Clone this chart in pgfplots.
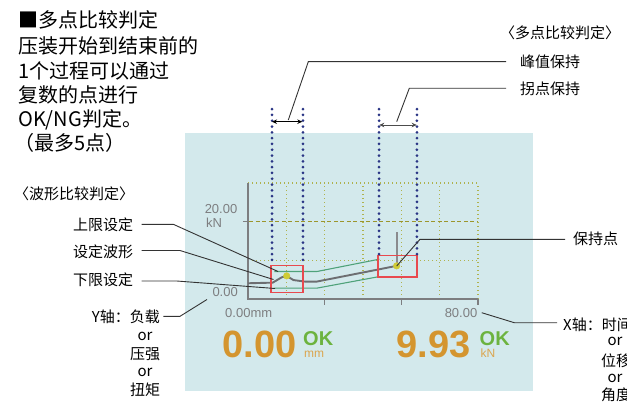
\documentclass[border=0pt]{standalone}
\usepackage{pgfplots}
\pgfplotsset{compat=1.18}
\usepackage{fontspec}
\setmainfont{Liberation Sans}
\newfontfamily\cjk{Noto Sans CJK SC}
\usetikzlibrary{arrows.meta}
\definecolor{panel}{HTML}{D3E9EC}
\definecolor{axgray}{HTML}{7D7E80}
\definecolor{navy}{HTML}{2A3585}
\definecolor{olive}{HTML}{AFB24E}
\definecolor{olivedk}{HTML}{9C962C}
\definecolor{limgreen}{HTML}{4FA27A}
\definecolor{boxred}{HTML}{E84A4F}
\definecolor{dotyellow}{HTML}{CFCB35}
\definecolor{numorange}{HTML}{D4952F}
\definecolor{okgreen}{HTML}{6CB33F}
\definecolor{wavegray}{HTML}{6D6E71}
\definecolor{leader}{HTML}{333333}
\newcommand{\bigtxt}{\cjk\fontsize{20}{24}\selectfont}
\newcommand{\lab}{\cjk\fontsize{15}{18}\selectfont}
\newcommand{\tk}{\fontsize{13}{15}\selectfont\color{axgray}}
\begin{document}
\begin{tikzpicture}
\useasboundingbox (0,0) rectangle (627pt,404pt);
\clip (0,0) rectangle (627pt,404pt);
% background panel
\begin{axis}[at={(0,0)}, anchor=south west, scale only axis, width=627pt, height=404pt,
  xmin=0, xmax=627, ymin=0, ymax=404, y dir=reverse, hide axis, clip=false]
  \fill[panel] (185,133) rectangle (533,391);
\end{axis}
% data chart
\begin{axis}[at={(248pt,105pt)}, anchor=south west, scale only axis, width=230pt, height=116pt,
  xmin=0, xmax=80, ymin=0, ymax=30, hide axis, clip=false]
  % grid
  \foreach \gx in {13.333,26.667,40,53.333,66.667,80}{
    \edef\tmp{\noexpand\draw[olive, line width=1.1pt, dash pattern=on 1.4pt off 2.6pt] (axis cs:\gx,0) -- (axis cs:\gx,30);}\tmp
  }
  \draw[olive, line width=1.1pt, dash pattern=on 1.4pt off 2.6pt] (axis cs:0,10) -- (axis cs:80,10);
  \draw[olive, line width=1.1pt, dash pattern=on 1.4pt off 2.6pt] (axis cs:0,30) -- (axis cs:80,30);
  \draw[olivedk, line width=1.2pt, dash pattern=on 4pt off 2.5pt] (axis cs:-1.8,20) -- (axis cs:80,20);
  % axes
  \draw[axgray, line width=1.6pt] (axis cs:0,30) -- (axis cs:0,0) -- (axis cs:80,0);
  \draw[axgray, line width=1.4pt] (axis cs:26.667,0) -- ++(0pt,-6pt);
  \draw[axgray, line width=1.4pt] (axis cs:53.333,0) -- ++(0pt,-6pt);
  \draw[axgray, line width=1.4pt] (axis cs:80,0) -- ++(0pt,-6pt);
  \draw[axgray, line width=1.4pt] (axis cs:0,20) -- ++(-5pt,0pt);
  % limits
  \addplot[limgreen, line width=1.1pt] coordinates {(9.2,7.1) (23.9,7.1) (45.7,10.3)};
  \addplot[limgreen, line width=1.1pt] coordinates {(9.2,2.8) (23.9,2.8) (45.7,5.8)};
  % set waveform
  \addplot[wavegray, line width=1.9pt] coordinates {(0,4.07) (8.6,4.23) (11.7,5.6) (13.46,5.97) (15.8,4.9) (19.8,4.5) (23.9,4.5) (51.7,8.57)};
  \addplot[wavegray!80, line width=1.8pt] coordinates {(51.7,8.57) (51.7,17.4)};
  % red boxes
  \draw[boxred, line width=1.2pt] (axis cs:8.0,1.6) rectangle (axis cs:19.1,8.6);
  \draw[boxred, line width=1.2pt] (axis cs:45.2,5.7) rectangle (axis cs:58.8,11.2);
  % blue dotted judgment lines
  \addplot[navy, line width=3pt, line cap=round, dash pattern=on 0pt off 5.8pt] coordinates {(8.35,49.1) (8.35,9.4)};
  \addplot[navy, line width=3pt, line cap=round, dash pattern=on 0pt off 5.8pt] coordinates {(19.13,49.1) (19.13,9.4)};
  \addplot[navy, line width=3pt, line cap=round, dash pattern=on 0pt off 5.8pt] coordinates {(45.57,49.1) (45.57,11.2)};
  \addplot[navy, line width=3pt, line cap=round, dash pattern=on 0pt off 5.8pt] coordinates {(58.78,49.1) (58.78,11.2)};
  % hold points
  \addplot[only marks, mark=*, mark size=3.3pt, color=dotyellow] coordinates {(13.46,5.97) (51.7,8.57)};
\end{axis}
% annotations (pixel coordinates)
\begin{axis}[at={(0,0)}, anchor=south west, scale only axis, width=627pt, height=404pt,
  xmin=0, xmax=627, ymin=0, ymax=404, y dir=reverse, hide axis, clip=false]
  % top-left text
  \node[anchor=west, inner sep=0] at (18,19.5) {\bigtxt ■多点比较判定};
  \node[anchor=west, inner sep=0] at (18,46) {\bigtxt 压装开始到结束前的};
  \node[anchor=west, inner sep=0] at (18,70.5) {\bigtxt 1个过程可以通过};
  \node[anchor=west, inner sep=0] at (18,95) {\bigtxt 复数的点进行};
  \node[anchor=west, inner sep=0] at (18,120) {\bigtxt OK/NG判定。};
  \node[anchor=west, inner sep=0] at (14,143) {\bigtxt （最多5点）};
  % top-right labels
  \node[anchor=west, inner sep=0] at (500,32.5) {\lab 〈多点比较判定〉};
  \node[anchor=west, inner sep=0] at (520,62) {\lab 峰值保持};
  \node[anchor=west, inner sep=0] at (520,89) {\lab 拐点保持};
  \draw[leader, line width=0.9pt] (288.3,120) -- (308.3,61.7) -- (506,61.7);
  \draw[leader, line width=0.9pt] (396.7,121.7) -- (409.3,88.3) -- (506,88.3);
  % arrows
  \draw[black, line width=1pt, {Stealth[length=5pt,width=4.5pt]}-{Stealth[length=5pt,width=4.5pt]}] (272,121.7) -- (302.3,121.7);
  \draw[black!70, line width=1pt, {Stealth[length=5pt,width=4.5pt]}-{Stealth[length=5pt,width=4.5pt]}] (379.3,125) -- (416.7,125);
  % left labels
  \node[anchor=west, inner sep=0] at (14,193.3) {\lab 〈波形比较判定〉};
  \node[anchor=west, inner sep=0] at (73,224.3) {\lab 上限设定};
  \node[anchor=west, inner sep=0] at (73,251.7) {\lab 设定波形};
  \node[anchor=west, inner sep=0] at (73,280) {\lab 下限设定};
  \draw[leader, line width=0.9pt] (141.7,224.3) -- (173.3,224.3) -- (278,271.5);
  \draw[leader, line width=0.9pt] (141.7,250.5) -- (180,250.5) -- (273.5,279.5);
  \draw[leader, line width=0.9pt] (141.7,281) -- (176.7,281) -- (275,288.5);
  % Y axis label
  \node[anchor=east, inner sep=0] at (160,316.5) {\lab Y轴：负载};
  \node[inner sep=0] at (145,336.7) {\lab or};
  \node[inner sep=0] at (145,354.3) {\lab 压强};
  \node[inner sep=0] at (145,372.3) {\lab or};
  \node[inner sep=0] at (145,390) {\lab 扭矩};
  \draw[leader, line width=0.9pt] (163.3,316.3) -- (180,316.3) -- (207,299.5);
  % hold point label
  \node[anchor=west, inner sep=0] at (573,239) {\lab 保持点};
  \draw[leader, line width=0.9pt] (396.7,266) -- (420,239.3) -- (565,239.3);
  % X axis label
  \node[anchor=west, inner sep=0] at (563,325) {\lab X轴：时间};
  \node[inner sep=0] at (615,341.7) {\lab or};
  \node[inner sep=0] at (616,360.7) {\lab 位移};
  \node[inner sep=0] at (615,378) {\lab or};
  \node[inner sep=0] at (616,395) {\lab 角度};
  \draw[leader, line width=0.9pt] (481.7,312.7) -- (514.3,322.7) -- (557,322.7);
  % chart tick labels
  \node[anchor=east, inner sep=0] at (237.5,209.5) {\tk 20.00};
  \node[anchor=west, inner sep=0] at (206,222.3) {\tk kN};
  \node[anchor=east, inner sep=0] at (238,292.5) {\tk 0.00};
  \node[anchor=west, inner sep=0] at (225,313.3) {\tk 0.00mm};
  \node[anchor=east, inner sep=0] at (477.5,313.3) {\tk 80.00};
  % big readouts
  \node[anchor=base west, inner sep=0, text=numorange] at (222.5,357.7) {\fontsize{38}{40}\selectfont\bfseries 0.00};
  \node[anchor=base west, inner sep=0, text=okgreen] at (303,345) {\fontsize{20}{22}\selectfont\bfseries OK};
  \node[anchor=base west, inner sep=0, text=numorange!85] at (304,357.7) {\fontsize{12}{14}\selectfont mm};
  \node[anchor=base west, inner sep=0, text=numorange] at (396.5,357.7) {\fontsize{38}{40}\selectfont\bfseries 9.93};
  \node[anchor=base west, inner sep=0, text=okgreen] at (479.5,345) {\fontsize{20}{22}\selectfont\bfseries OK};
  \node[anchor=base west, inner sep=0, text=numorange!85] at (480.5,357.7) {\fontsize{12}{14}\selectfont kN};
\end{axis}
\end{tikzpicture}
\end{document}
